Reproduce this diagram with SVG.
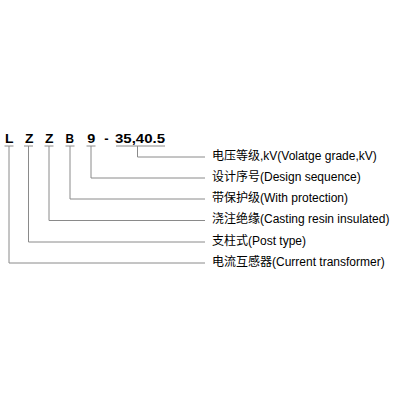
<svg xmlns="http://www.w3.org/2000/svg" width="400" height="400" viewBox="0 0 400 400">
<style>
.code{font-family:"Liberation Sans",Arial,sans-serif;font-weight:bold;font-size:13px;fill:#000;text-anchor:middle}
.lbl{font-family:"Liberation Sans",Arial,"Noto Sans CJK SC",sans-serif;font-size:12px;fill:#000}
.ln{fill:none;stroke:#8a8a8a;stroke-width:1}
</style>
<rect width="400" height="400" fill="#fff"/>
<g id="code">
<text class="code" x="9.3" y="143.3" textLength="8.5" lengthAdjust="spacingAndGlyphs">L</text>
<text class="code" x="29.2" y="143.3" textLength="8.5" lengthAdjust="spacingAndGlyphs">Z</text>
<text class="code" x="49.2" y="143.3" textLength="8.5" lengthAdjust="spacingAndGlyphs">Z</text>
<text class="code" x="69.8" y="143.3" textLength="8.5" lengthAdjust="spacingAndGlyphs">B</text>
<text class="code" x="91.3" y="143.3" textLength="8" lengthAdjust="spacingAndGlyphs">9</text>
<text class="code" x="106.5" y="143.3">-</text>
<text class="code" x="140" y="143.3" textLength="50" lengthAdjust="spacingAndGlyphs">35,40.5</text>
</g>
<g id="connectors">
<path class="ln" d="M4.5,146H13.5M24,146H33M44.5,146H53.5M65.5,146H74.5M86.5,146H95.5M116,146H165"/>
<path class="ln" d="M137.5,146V157H205"/>
<path class="ln" d="M91,146V178H205"/>
<path class="ln" d="M70,146V199H205"/>
<path class="ln" d="M49,146V220.5H205"/>
<path class="ln" d="M28.5,146V242H205"/>
<path class="ln" d="M9,146V263H205"/>
</g>
<g id="label-voltage"><text class="lbl" x="212" y="159.5">电压等级,kV(Volatge grade,kV)</text></g>
<g id="label-design"><text class="lbl" x="212" y="180.5">设计序号(Design sequence)</text></g>
<g id="label-protection"><text class="lbl" x="212" y="201.5">带保护级(With protection)</text></g>
<g id="label-casting"><text class="lbl" x="212" y="223">浇注绝缘(Casting resin insulated)</text></g>
<g id="label-post"><text class="lbl" x="212" y="244.5">支柱式(Post type)</text></g>
<g id="label-ct"><text class="lbl" x="212" y="265.5">电流互感器(Current transformer)</text></g>
</svg>
